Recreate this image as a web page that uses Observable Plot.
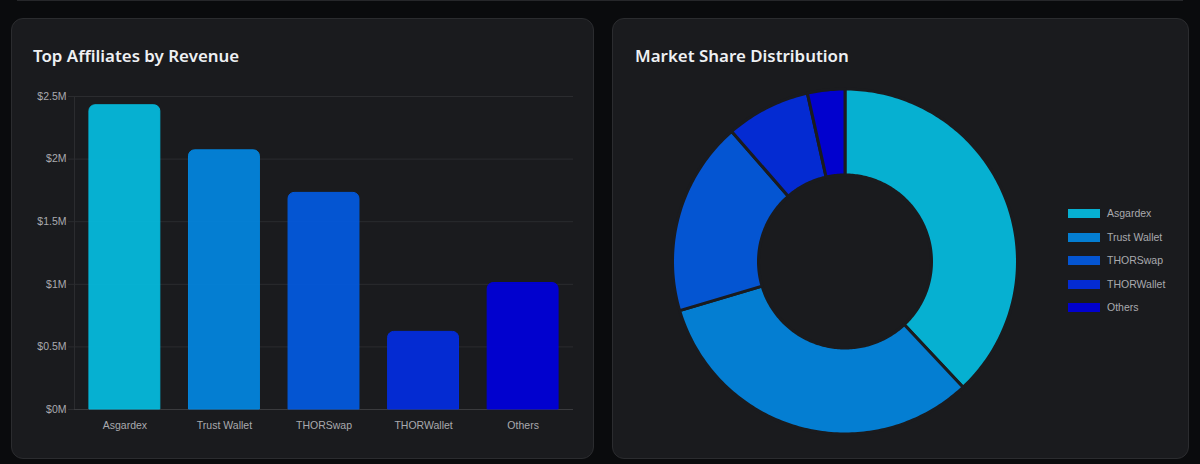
<!DOCTYPE html>
<html>
<head>
<meta charset="utf-8">
<script src="https://cdn.jsdelivr.net/npm/d3@7"></script>
<script src="https://cdn.jsdelivr.net/npm/@observablehq/plot@0.6"></script>
<style>
html,body{margin:0;padding:0;width:1200px;height:464px;overflow:hidden;background:#0a0b0d;}
.prev{position:absolute;left:17px;top:-20px;width:1166px;height:20.5px;background:#1a1b1e;border:1px solid #26272a;box-sizing:border-box;}
.card{position:absolute;top:18px;height:441px;background:#1a1b1e;border:1px solid #2b2c2f;border-radius:12px;box-sizing:border-box;}
h3{position:absolute;margin:0;left:21px;top:24px;font:600 16.9px/26px "Noto Sans",sans-serif;color:#eef0f3;white-space:nowrap;}
.plot{position:absolute;width:575px;height:360px;}
.plot svg{display:block;background:transparent;max-width:none;}
.legend{position:absolute;left:455px;top:185px;font:10.5px "Liberation Sans",Arial,sans-serif;color:#a9aaae;}
.legend div{position:relative;height:23.5px;white-space:nowrap;}
.legend i{position:absolute;left:0;top:5px;width:32px;height:9px;opacity:.95;}
.legend span{position:absolute;left:39px;top:3px;}
</style>
</head>
<body>
<div class="prev"></div>
<div class="card" id="c1" style="left:11px;width:583px"><h3>Top Affiliates by Revenue</h3></div>
<div class="card" id="c2" style="left:612px;width:577px"><h3 style="left:22px">Market Share Distribution</h3></div>
<script>
const affiliates = ["Asgardex", "Trust Wallet", "THORSwap", "THORWallet", "Others"];
const revenueM = [2.43, 2.07, 1.73, 0.62, 1.01];
const sharePct = [38.0, 32.4, 18.2, 7.9, 3.5];
const palette = ["#05b8db", "#0384dc", "#0359dc", "#032cdc", "#0000d8"];
const yTicks = [0, 0.5, 1, 1.5, 2, 2.5];

const gridColor = "#2b2c2f";
const revenue = affiliates.map((name, i) => ({name, value: revenueM[i]}));

const bars = Plot.plot({
  width: 575, height: 360,
  marginLeft: 62, marginRight: 14, marginTop: 16, marginBottom: 31,
  style: {background: "transparent", color: "#a9aaae", fontFamily: '"Liberation Sans",Arial,sans-serif', fontSize: "10.5px", maxWidth: "none"},
  x: {domain: affiliates, paddingInner: 0.288, paddingOuter: 0.15, round: false, label: null},
  y: {domain: [0, 2.5], label: null},
  color: {domain: affiliates, range: palette},
  marks: [
    Plot.gridY(yTicks, {stroke: gridColor, strokeOpacity: 1}),
    Plot.axisY(yTicks, {tickFormat: d => `$${d}M`, tickSize: 6, tickPadding: 2, stroke: gridColor, label: null, fill: "#a9aaae"}),
    Plot.axisX({tickSize: 0, tickPadding: 12, label: null, fill: "#a9aaae"}),
    Plot.frame({anchor: "left", stroke: gridColor}),
    Plot.ruleY([0], {stroke: "#3a3b3e"}),
    Plot.barY(revenue, {x: "name", y: "value", fill: "name", fillOpacity: 0.95, ry1: 6, rx: 6, stroke: "name", strokeOpacity: 1})
  ]
});
const w1 = document.createElement("div");
w1.className = "plot"; w1.style.left = "0px"; w1.style.top = "61px";
w1.appendChild(bars);
document.getElementById("c1").appendChild(w1);

// Donut: slices become polygons around the pole of a polar projection, drawn by Plot.geo
const outer = 60, inner = outer * 86.5 / 172.5, R = 172.5;
const projection = d3.geoAzimuthalEquidistant().rotate([0, -90])
  .scale(R / (outer * Math.PI / 180)).translate([231.5, 181]);
const total = d3.sum(sharePct);
let acc = 0;
const slices = affiliates.map((name, i) => {
  const a0 = acc / total * 360; acc += sharePct[i]; const a1 = acc / total * 360;
  const n = Math.max(2, Math.ceil(a1 - a0));
  const ring = [];
  for (let k = 0; k <= n; k++) ring.push([180 - (a0 + (a1 - a0) * k / n), 90 - outer]);
  for (let k = n; k >= 0; k--) ring.push([180 - (a0 + (a1 - a0) * k / n), 90 - inner]);
  ring.push(ring[0]);
  return {type: "Feature", properties: {name}, geometry: {type: "Polygon", coordinates: [ring]}};
});
const donut = Plot.plot({
  width: 575, height: 360, margin: 0,
  style: {background: "transparent", maxWidth: "none"},
  projection,
  color: {domain: affiliates, range: palette},
  marks: [Plot.geo(slices, {fill: d => d.properties.name, fillOpacity: 0.95, stroke: "#1a1b1e", strokeWidth: 3})]
});
const w2 = document.createElement("div");
w2.className = "plot"; w2.style.left = "0px"; w2.style.top = "61px";
w2.appendChild(donut);
const c2 = document.getElementById("c2");
c2.appendChild(w2);

const legend = document.createElement("div");
legend.className = "legend";
affiliates.forEach((name, i) => {
  const row = document.createElement("div");
  const sw = document.createElement("i"); sw.style.background = palette[i];
  const tx = document.createElement("span"); tx.textContent = name;
  row.append(sw, tx); legend.appendChild(row);
});
c2.appendChild(legend);
</script>
</body>
</html>
